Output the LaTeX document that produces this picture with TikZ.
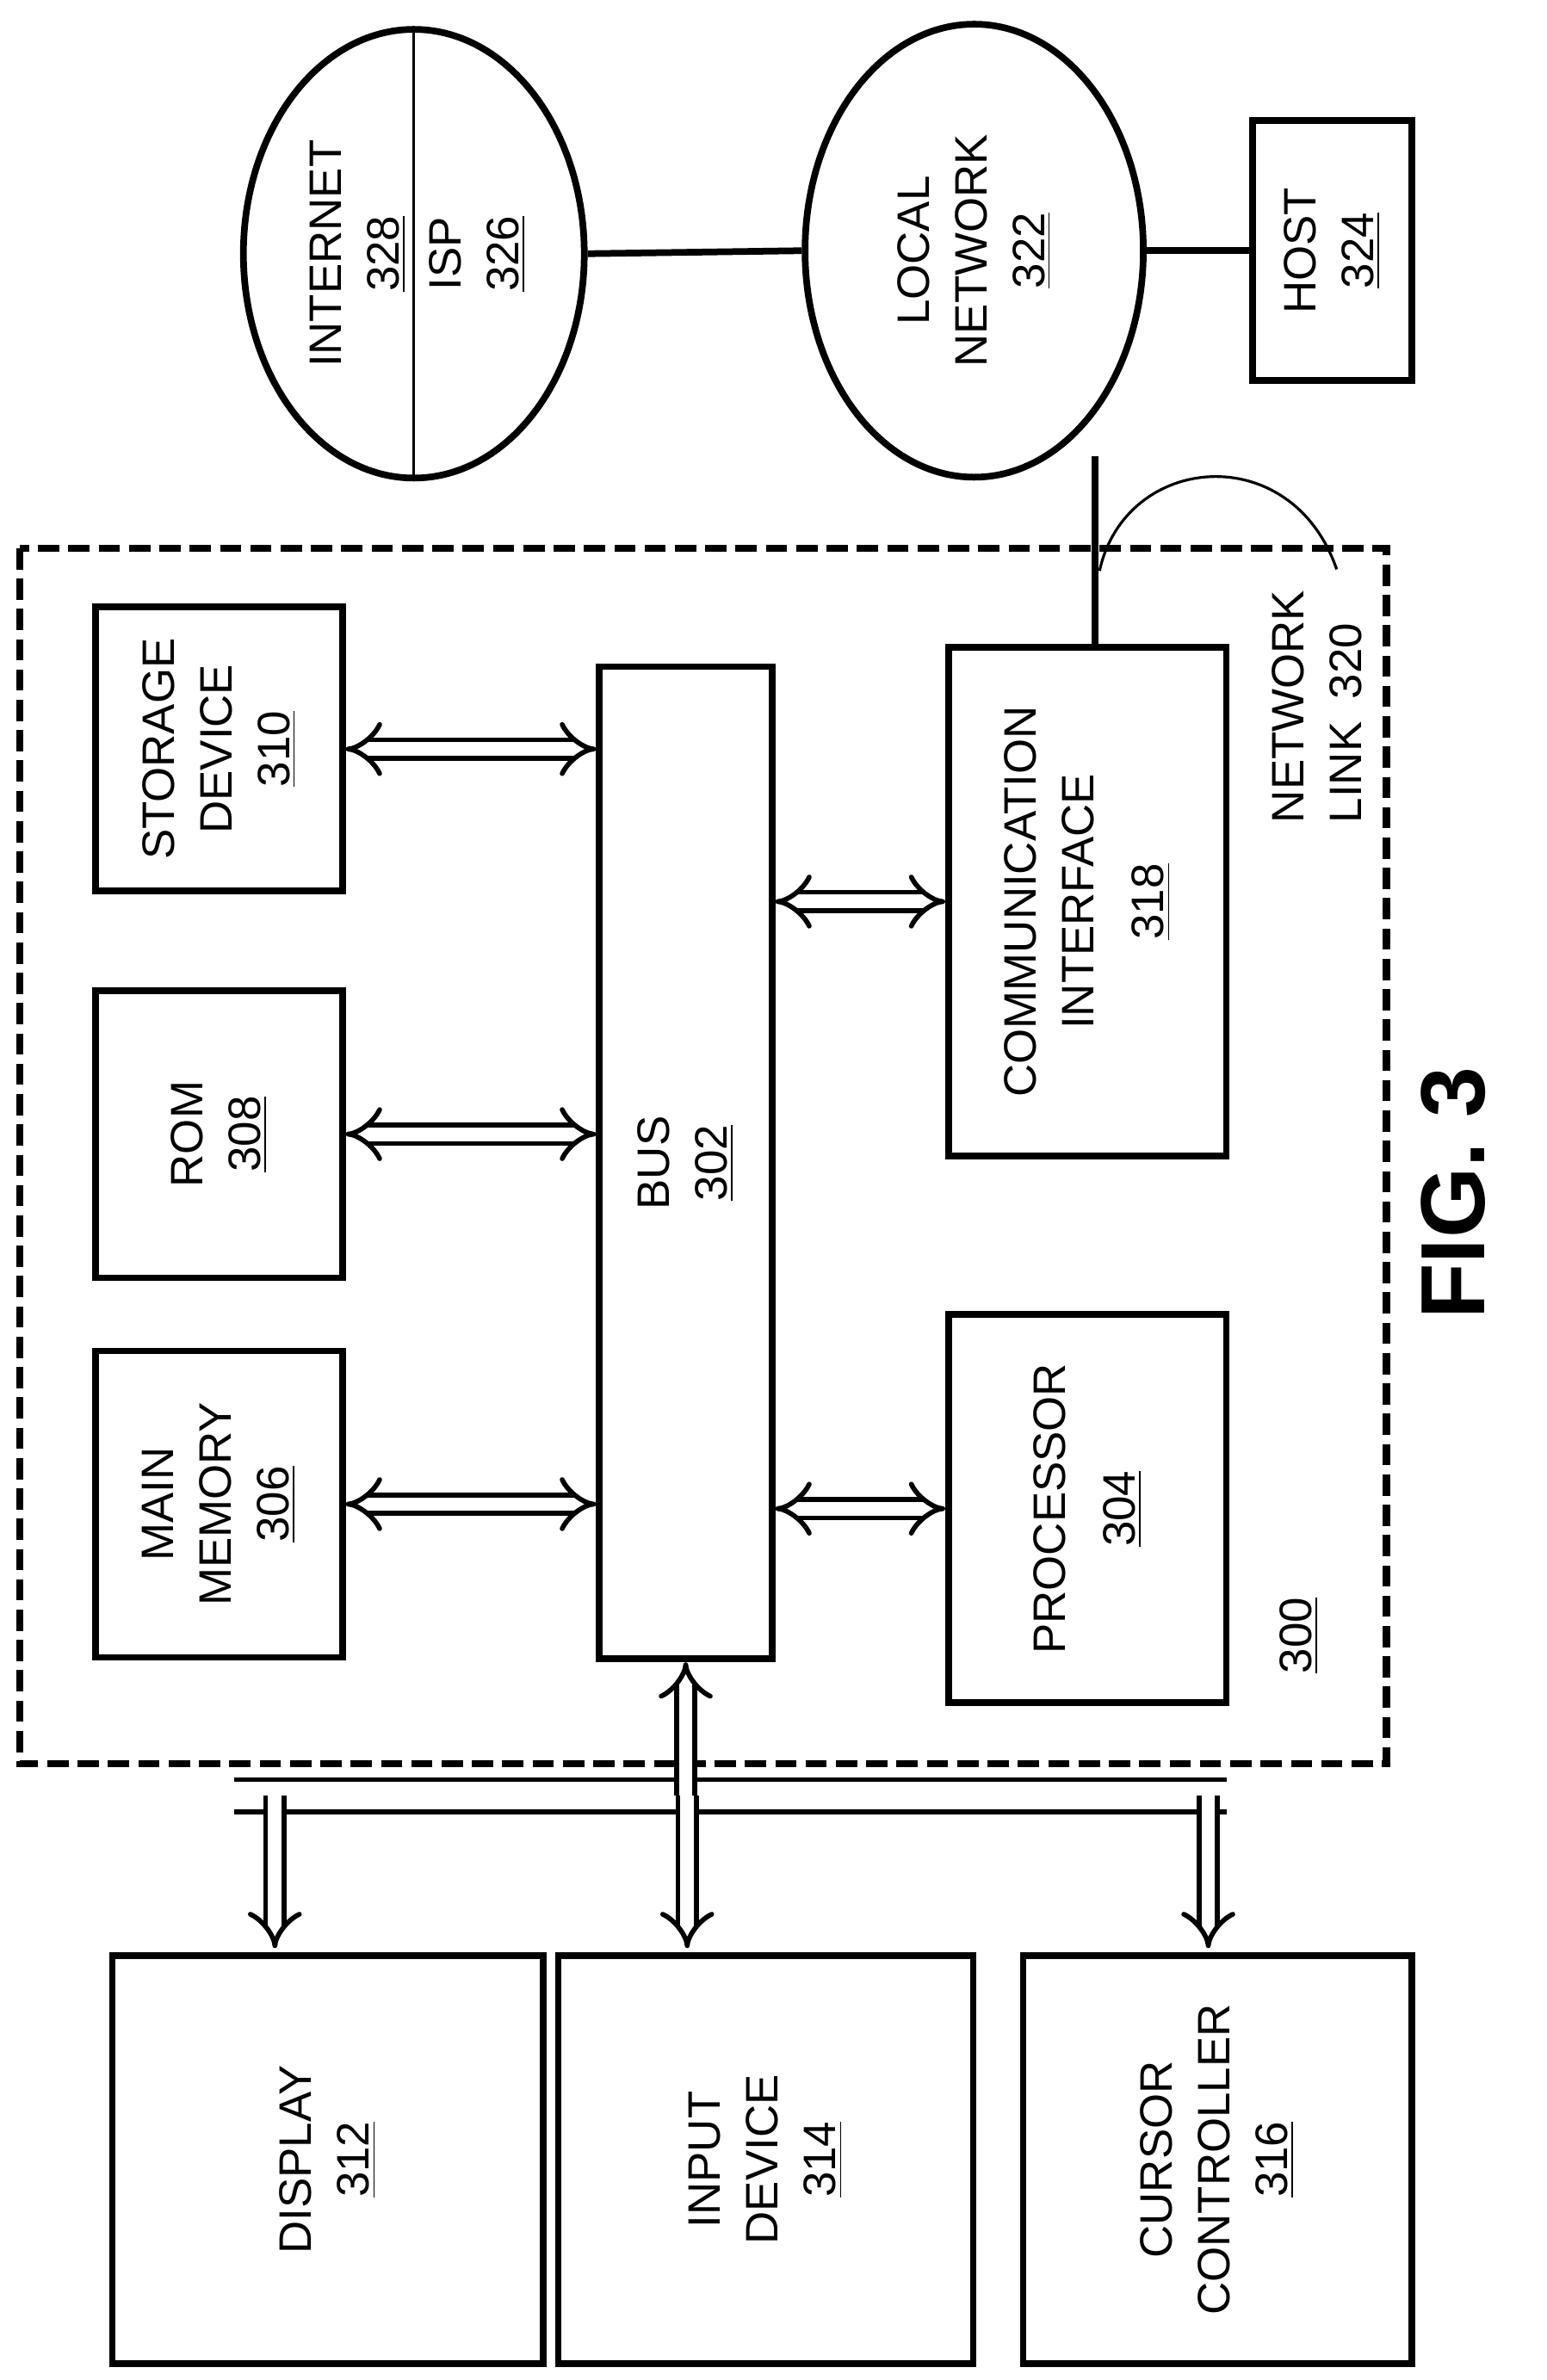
\documentclass[tikz,border=0pt]{standalone}
\usepackage{fontspec}
\setmainfont{Liberation Sans}
\usepackage{tikz}
\usetikzlibrary{arrows,shapes.geometric,positioning}

\begin{document}
\begin{tikzpicture}[
            x=0.0175cm, y=-0.0175cm,
            box/.style={draw, line width=2.2pt, inner sep=0pt},
            oval/.style={draw, ellipse, line width=2.2pt, inner sep=0pt},
            lbl/.style={rotate=90, align=center, font=\fontsize{15}{19}\selectfont},
            link/.style={line width=2.2pt},
            dbl/.style={double, double distance=4.5pt, line width=1.6pt, >=implies},
        ]
        \useasboundingbox (0,0) rectangle (1024,1576);
        % system boundary
        \draw[line width=2.4pt, dash pattern=on 7pt off 3pt] (13,363) rectangle (918,1168);
        % boxes inside the system
        \node[box, minimum width=2.86cm, minimum height=3.29cm] (storage) at (145,496) {};
        \node[lbl] at (storage) {STORAGE\\DEVICE\\\underline{310}};
        \node[box, minimum width=2.86cm, minimum height=3.33cm] (rom) at (145,751) {};
        \node[lbl] at (rom) {ROM\\\underline{308}};
        \node[box, minimum width=2.86cm, minimum height=3.55cm] (mainmem) at (145,996) {};
        \node[lbl] at (mainmem) {MAIN\\MEMORY\\\underline{306}};
        \node[box, minimum width=2.0cm, minimum height=11.5cm] (bus) at (454,770) {};
        \node[lbl] at (bus) {BUS\\\underline{302}};
        \node[box, minimum width=3.22cm, minimum height=5.90cm] (comm) at (720,597) {};
        \node[lbl] at (comm) {COMMUNICATION\\INTERFACE\\[4pt]\underline{318}};
        \node[box, minimum width=3.22cm, minimum height=4.50cm] (proc) at (720,999) {};
        \node[lbl] at (proc) {PROCESSOR\\[4pt]\underline{304}};
        \node[lbl] (sys) at (860,1083) {\underline{300}};
        \node[lbl, align=left] (linklbl) at (872,468) {NETWORK\\LINK\enspace 320};
        % peripheral boxes
        \node[box, minimum width=4.99cm, minimum height=4.73cm] (display) at (217,1430) {};
        \node[lbl] at (display) {DISPLAY\\\underline{312}};
        \node[box, minimum width=4.81cm, minimum height=4.73cm] (input) at (507,1430) {};
        \node[lbl] at (input) {INPUT\\DEVICE\\\underline{314}};
        \node[box, minimum width=4.50cm, minimum height=4.73cm] (cursor) at (806,1430) {};
        \node[lbl] at (cursor) {CURSOR\\CONTROLLER\\\underline{316}};
        % networks
        \node[oval, minimum width=3.95cm, minimum height=5.2cm] (inet) at (274,168) {};
        \draw[line width=0.8pt] (inet.north) -- (inet.south);
        \node[lbl] at (237,168) {INTERNET\\\underline{328}};
        \node[lbl] at (316,168) {ISP\\\underline{326}};
        \node[oval, minimum width=3.92cm, minimum height=5.25cm] (local) at (645,166) {};
        \node[lbl] at (local) {LOCAL\\NETWORK\\\underline{322}};
        \node[box, minimum width=1.84cm, minimum height=3.01cm] (host) at (882,166) {};
        \node[lbl] at (host) {HOST\\\underline{324}};
        \draw[link] (inet.east) -- (local.west);
        \draw[link] (local.east) -- (host.west);
        \coordinate (lk) at (725,302);
        \draw[link] (lk) -- (lk |- comm.north);
        \draw[line width=0.9pt] (728,378) .. controls (745,300) and (855,290) .. (885,377);
        % bus connections
        \foreach \b in {storage,rom,mainmem}
            \draw[dbl, <->] (\b.east) -- (\b.east -| bus.west);
        \foreach \b in {comm,proc}
            \draw[dbl, <->] (\b.west) -- (\b.west -| bus.east);
        % I/O bar
        \coordinate (barL) at (155,1189);
        \coordinate (barR) at (812,1189);
        \draw[double, double distance=9pt, line width=1.6pt] (barL) -- (barR);
        \draw[dbl, <-] (bus.south) -- (bus.south |- barL);
        \foreach \p/\x in {display/182,input/455,cursor/800}
            \draw[dbl, ->] (\x,1189) -- (\x,1290);
        \node[rotate=90, font=\bfseries\fontsize{30}{36}\selectfont] (fig) at (962,790) {FIG. 3};
\end{tikzpicture}
\end{document}
